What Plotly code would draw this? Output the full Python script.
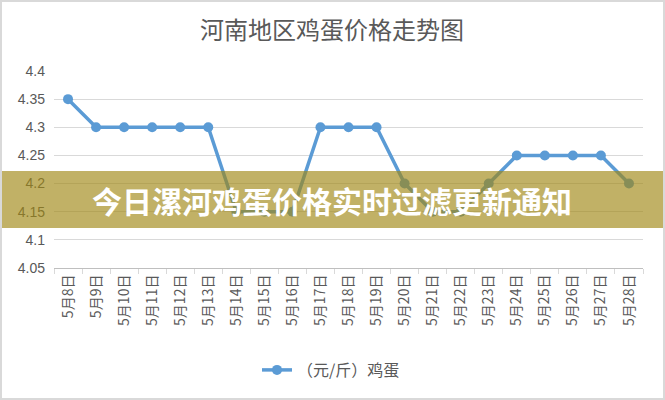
import plotly.graph_objects as go

W, H = 665, 400
L, R, T, B = 54, 22, 71, 132

dates = ["5月%d日" % d for d in range(8, 29)]
prices = [4.35, 4.30, 4.30, 4.30, 4.30, 4.30, 4.15, 4.15, 4.15, 4.30, 4.30,
          4.30, 4.20, 4.15, 4.15, 4.20, 4.25, 4.25, 4.25, 4.25, 4.20]
y_ticks = [4.05, 4.1, 4.15, 4.2, 4.25, 4.3, 4.35, 4.4]

title_text = "河南地区鸡蛋价格走势图"
banner_text = "今日漯河鸡蛋价格实时过滤更新通知"
series_name = "（元/斤）鸡蛋"

GRAY = "#595959"
FONT = "Noto Sans CJK SC"


def px_x(px):
    # pixel x -> paper x
    return (px - L) / (W - L - R)


def px_y(py):
    # pixel y (from top) -> paper y
    return (H - B - py) / (H - T - B)


fig = go.Figure(
    go.Scatter(
        x=dates,
        y=prices,
        name=series_name,
        mode="lines+markers",
        line=dict(color="#5B9BD5", width=3.5),
        marker=dict(size=10, color="#5B9BD5"),
    )
)

fig.update_layout(
    width=W,
    height=H,
    margin=dict(l=L, r=R, t=T, b=B),
    paper_bgcolor="white",
    plot_bgcolor="white",
    font=dict(family=FONT, color=GRAY, size=13),
    title=dict(
        text=title_text,
        x=px_x(332), xanchor="center", xref="paper",
        y=1 - 31 / H, yanchor="middle",
        font=dict(size=24, color=GRAY, family=FONT),
    ),
    showlegend=True,
    legend=dict(
        orientation="h",
        x=px_x(331), xanchor="center",
        y=px_y(370), yanchor="middle",
        font=dict(size=16, color=GRAY),
    ),
    xaxis=dict(
        type="category",
        range=[-0.5, len(dates) - 0.5],
        tickangle=-90,
        tickson="boundaries",
        ticks="outside",
        ticklen=5,
        tickcolor="#d9d9d9",
        showline=True,
        linecolor="#bfbfbf",
        linewidth=1,
        showgrid=False,
        tickfont=dict(size=14, color=GRAY, family=FONT),
    ),
    yaxis=dict(
        range=[4.05, 4.4],
        tickvals=y_ticks,
        ticktext=[("%g" % v) for v in y_ticks],
        showgrid=True,
        gridcolor="#d9d9d9",
        gridwidth=1,
        zeroline=False,
        showline=False,
        ticklabelstandoff=8,
        tickfont=dict(size=14, color=GRAY, family="Liberation Sans"),
    ),
)

# translucent banner across the chart
fig.add_shape(
    type="rect", xref="paper", yref="paper",
    x0=px_x(0), x1=px_x(W), y0=px_y(228), y1=px_y(171),
    fillcolor="rgba(160,135,20,0.65)", line=dict(width=0), layer="above",
)
fig.add_annotation(
    text="<b>" + banner_text + "</b>",
    xref="paper", yref="paper",
    x=px_x(332), y=px_y(200), xanchor="center", yanchor="middle",
    showarrow=False,
    font=dict(size=30, color="white", family=FONT),
)

# light frame round the picture
fig.add_shape(
    type="rect", xref="paper", yref="paper",
    x0=px_x(1), x1=px_x(W - 1), y0=px_y(H - 1), y1=px_y(1),
    line=dict(color="#d9d9d9", width=2), fillcolor="rgba(0,0,0,0)",
    layer="above",
)

fig.write_html(
    "out.html",
    config={"displayModeBar": False},
    post_script="document.body.style.margin='0';",
)
